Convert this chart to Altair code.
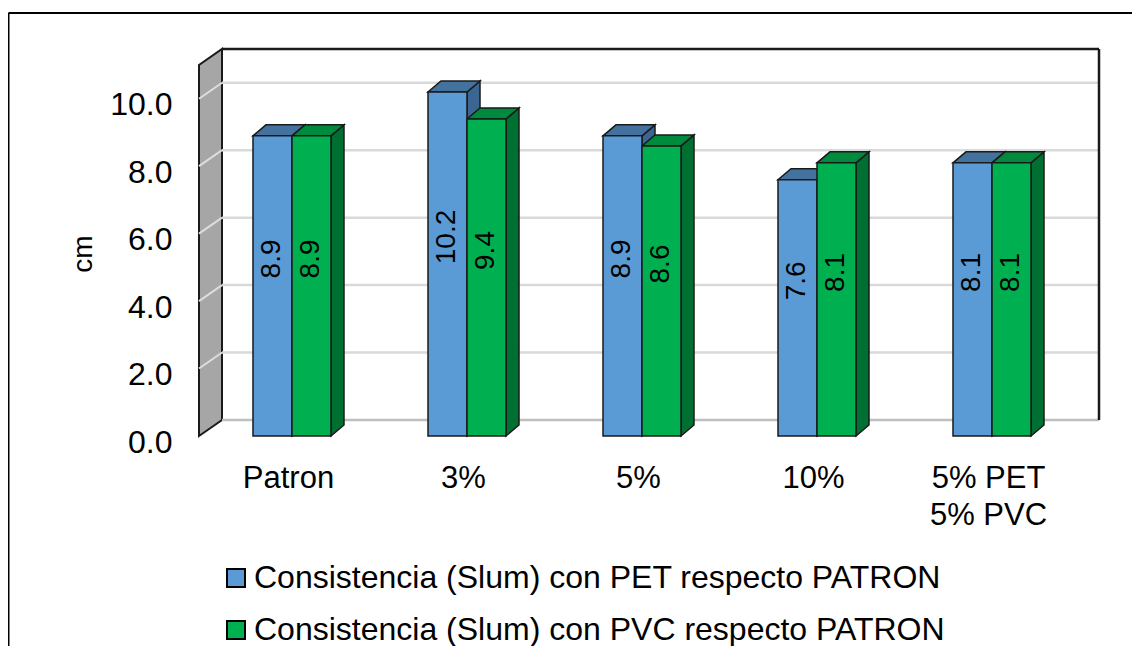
import json
import altair as alt
import pandas as pd

# ---------------- data ----------------
cats = ["Patron", "3%", "5%", "10%", "5% PET\n5% PVC"]
pet = [8.9, 10.2, 8.9, 7.6, 8.1]
pvc = [8.9, 9.4, 8.6, 8.1, 8.1]
series = [
    "Consistencia (Slum) con PET respecto PATRON",
    "Consistencia (Slum) con PVC respecto PATRON",
]
yticks = [0, 2, 4, 6, 8, 10]

# ---------------- style ----------------
FRONT = ["#5B9BD5", "#00B050"]
TOP = ["#44729E", "#008A3E"]
SIDE = ["#3A6691", "#006F32"]
EDGE = "#1A1A1A"
FONT = "Liberation Sans"

W, H = 877, 371
X0, X1 = -0.5314, 4.48
YMAX = 11
PXX = W / (X1 - X0)
PXY = H / YMAX
BW = 39 / PXX      # bar front width (x units)
BDX = 13 / PXX     # bar depth x
BDY = 11 / PXY     # bar depth y
WDX = 23 / PXX     # wall depth x
WDY = 16 / PXY     # wall depth y

# ---------------- derived tables ----------------
front_rows, side_rows, top_rows = [], [], []
for i, c in enumerate(cats):
    for s, vals in enumerate([pet, pvc]):
        v = vals[i]
        xl = i - BW if s == 0 else i
        xr = xl + BW
        key = f"{i}-{s}"
        front_rows.append(dict(cat=c, series=series[s], s=s, x=xl, x2=xr, v=v,
                               tx=(xl + xr) / 2, ty=v / 2 + 0.8, lab=f"{v:.1f}"))
        side_rows += [
            dict(key=key, s=s, x=xr, lo=0, hi=v),
            dict(key=key, s=s, x=xr + BDX, lo=BDY, hi=v + BDY),
        ]
        top_rows += [
            dict(key=key, s=s, x=xl, lo=v, hi=v),
            dict(key=key, s=s, x=xl + BDX, lo=v, hi=v + BDY),
            dict(key=key, s=s, x=xr, lo=v, hi=v + BDY),
            dict(key=key, s=s, x=xr + BDX, lo=v + BDY, hi=v + BDY),
        ]
front_df = pd.DataFrame(front_rows)
side_df = pd.DataFrame(side_rows)
top_df = pd.DataFrame(top_rows)

wall_df = pd.DataFrame([
    dict(x=X0, lo=0, hi=YMAX),
    dict(x=X0 + WDX, lo=WDY, hi=YMAX + WDY),
])
grid_df = pd.DataFrame(dict(
    v=yticks,
    xa=[X0] * len(yticks),
    xb=[X0 + WDX] * len(yticks),
    xe=[X1 + WDX] * len(yticks),
))
grid_df["yb"] = grid_df["v"] + WDY
back_df = pd.DataFrame([dict(xa=X0 + WDX, xe=X1 + WDX, ylo=WDY, yhi=YMAX + WDY)])

xs = alt.Scale(domain=[X0, X1], nice=False, zero=False)
ys = alt.Scale(domain=[0, YMAX], nice=False, zero=True)

def X(f):
    return alt.X(f, type="quantitative", scale=xs)

def Y(f):
    return alt.Y(f, type="quantitative", scale=ys)

# ---------------- layers ----------------
wall = alt.Chart(wall_df).mark_area(fill="#A6A6A6", stroke=EDGE, strokeWidth=2).encode(
    x=X("x"), y=Y("lo"), y2="hi"
)
wall_lines = alt.Chart(grid_df).transform_filter("datum.v > 0").mark_rule(
    color="#DDDDDD", strokeWidth=2
).encode(x=X("xa"), x2="xb", y=Y("v"), y2="yb")
grid = alt.Chart(grid_df).mark_rule(strokeWidth=2.5).encode(
    x=X("xb"), x2="xe", y=Y("yb"),
    color=alt.condition("datum.v == 0", alt.value("#BFBFBF"), alt.value("#D9D9D9")),
)
back_top = alt.Chart(back_df).mark_rule(color=EDGE, strokeWidth=2.5).encode(
    x=X("xa"), x2="xe", y=Y("yhi")
)
back_right = alt.Chart(back_df).mark_rule(color=EDGE, strokeWidth=2.5).encode(
    x=X("xe"), y=Y("ylo"), y2="yhi"
)

sides = [
    alt.Chart(side_df).transform_filter(f"datum.s == {s}").mark_area(
        fill=SIDE[s], stroke=EDGE, strokeWidth=1.5
    ).encode(x=X("x"), y=Y("lo"), y2="hi", detail="key:N")
    for s in (0, 1)
]
tops = [
    alt.Chart(top_df).transform_filter(f"datum.s == {s}").mark_area(
        fill=TOP[s], stroke=EDGE, strokeWidth=1.5
    ).encode(x=X("x"), y=Y("lo"), y2="hi", detail="key:N")
    for s in (0, 1)
]

labels_js = json.dumps([c.split("\n") for c in cats])
fronts = alt.Chart(front_df).mark_rect(stroke=EDGE, strokeWidth=1.5).encode(
    x=alt.X("x:Q", scale=xs, axis=alt.Axis(
        values=list(range(len(cats))), labelExpr=f"{labels_js}[round(datum.value)]",
        title=None, domain=False, ticks=False, grid=False, labelFlush=False,
        labelFontSize=31, labelFont=FONT, labelColor="black", labelPadding=27,
        labelLineHeight=37, labelOffset=-4, labelOverlap=False,
    )),
    x2="x2",
    y=alt.Y("v:Q", scale=ys, axis=alt.Axis(
        values=yticks, format=".1f", title="cm", domain=False, ticks=False, grid=False,
        labelFontSize=32, labelFont=FONT, labelColor="black", labelPadding=27,
        labelOffset=6, labelFlush=False,
        titleFontSize=28, titleFont=FONT, titleFontWeight="normal", titleColor="black",
        titleAngle=270, titleX=-116, titleY=H / 2 + 3, titleAlign="center",
        titleBaseline="middle",
    )),
    y2=alt.Y2(datum=0),
    fill=alt.Fill("series:N", scale=alt.Scale(domain=series, range=FRONT), legend=alt.Legend(
        title=None, orient="none", legendX=21, legendY=497, direction="vertical",
        symbolType="square", symbolSize=324, symbolStrokeColor="black",
        symbolStrokeWidth=2, symbolOpacity=1,
        labelFontSize=32, labelFont=FONT, labelColor="black", labelLimit=1000,
        labelOffset=2, rowPadding=20, padding=0,
    )),
)
text = alt.Chart(front_df).mark_text(
    angle=270, fontSize=28, font=FONT, color="black", align="center", baseline="middle"
).encode(x=X("tx"), y=Y("ty"), text="lab:N")

one = pd.DataFrame({"a": [0]})
frame_left = alt.Chart(one).mark_rule(color="black", strokeWidth=2).encode(
    x=alt.value(-190.5), y=alt.value(-52), y2=alt.value(H + 230)
)
frame_top = alt.Chart(one).mark_rule(color="black", strokeWidth=2).encode(
    x=alt.value(-190.5), x2=alt.value(W + 80), y=alt.value(-52)
)

chart = alt.layer(
    frame_left, frame_top, wall, grid, wall_lines, back_top, back_right,
    sides[0], sides[1], tops[0], tops[1], fronts, text,
).properties(
    width=W, height=H,
    autosize=alt.AutoSizeParams(type="none"),
    padding={"left": 191, "top": 57, "right": 56, "bottom": 210},
    background="white",
).configure_view(strokeOpacity=0)

chart.save("out.html", embed_options={"renderer": "svg", "actions": False})
